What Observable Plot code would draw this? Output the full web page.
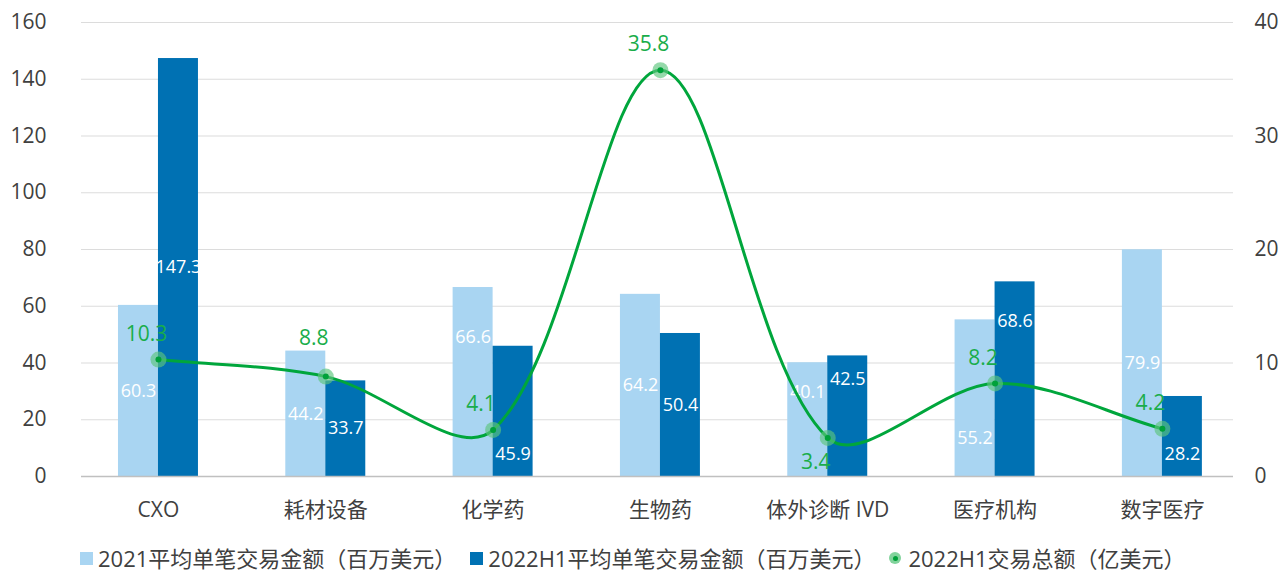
<!DOCTYPE html>
<html>
<head>
<meta charset="utf-8">
<script src="https://cdn.jsdelivr.net/npm/d3@7"></script>
<script src="https://cdn.jsdelivr.net/npm/@observablehq/plot@0.6"></script>
<style>
  html, body { margin: 0; padding: 0; background: #fff; }
  body { width: 1286px; height: 572px; overflow: hidden; font-family: "Open Sans", "Noto Sans CJK SC", sans-serif; }
  #legend { display: flex; align-items: center; height: 28px; line-height: 28px; padding-top: 14px; padding-left: 80px; font-size: 22px; color: #404040; white-space: nowrap; }
  .item { display: flex; align-items: center; margin-right: 14px; }
  .sq { width: 13px; height: 13px; margin-right: 5px; }
  .circ { width: 12px; height: 12px; border-radius: 50%; background: #82d39c; margin-right: 7px; display: flex; align-items: center; justify-content: center; }
  .circ span { width: 5px; height: 5px; border-radius: 50%; background: #00a13a; display: block; }
</style>
</head>
<body>
<div id="chart"></div>
<div id="legend"></div>
<script>
const categories = ["CXO", "耗材设备", "化学药", "生物药", "体外诊断 IVD", "医疗机构", "数字医疗"];
const avg2021 = [60.3, 44.2, 66.6, 64.2, 40.1, 55.2, 79.9];
const avg2022H1 = [147.3, 33.7, 45.9, 50.4, 42.5, 68.6, 28.2];
const total2022H1 = [10.3, 8.8, 4.1, 35.8, 3.4, 8.2, 4.2];
const leftTicks = [0, 20, 40, 60, 80, 100, 120, 140, 160];
const rightTicks = [0, 10, 20, 30, 40];
const seriesNames = ["2021平均单笔交易金额（百万美元）", "2022H1平均单笔交易金额（百万美元）", "2022H1交易总额（亿美元）"];

const lightBlue = "#a9d5f2";
const darkBlue = "#0071b3";
const green = "#00a63c";
const greenText = "#19ad4a";
const ratio = 160 / 40;
const barW = 0.239;

// Spreadsheet-style smoothed line: cubic Bezier segments whose tangents
// are scaled by the relative chord lengths of neighbouring segments.
function smoothCurve(context) {
  let pts = [];
  return {
    areaStart() {}, areaEnd() {},
    lineStart() { pts = []; },
    point(x, y) { pts.push([+x, +y]); },
    lineEnd() {
      const n = pts.length;
      if (!n) return;
      context.moveTo(pts[0][0], pts[0][1]);
      const dist = (a, b) => Math.hypot(b[0] - a[0], b[1] - a[1]);
      for (let i = 0; i < n - 1; i++) {
        const p0 = pts[Math.max(0, i - 1)], p1 = pts[i], p2 = pts[i + 1], p3 = pts[Math.min(n - 1, i + 2)];
        const d01 = dist(p0, p1), d12 = dist(p1, p2), d23 = dist(p2, p3);
        const f1 = d01 + d12 > 0 ? d12 / (d01 + d12) / 3 : 0;
        const f2 = d12 + d23 > 0 ? d12 / (d12 + d23) / 3 : 0;
        const c1 = [p1[0] + (p2[0] - p0[0]) * f1, p1[1] + (p2[1] - p0[1]) * f1];
        const c2 = [p2[0] - (p3[0] - p1[0]) * f2, p2[1] - (p3[1] - p1[1]) * f2];
        context.bezierCurveTo(c1[0], c1[1], c2[0], c2[1], p2[0], p2[1]);
      }
    }
  };
}

// Put a bar's value label at its middle, unless that collides with an
// obstacle band [lo, hi] (line point / its label); then use the larger free gap.
function placeLabel(v, lo, hi) {
  const mid = v / 2, half = 2.5;
  if (mid + half < lo || mid - half > hi) return mid;
  const gapLow = Math.max(0, lo), gapHigh = Math.max(0, v - hi);
  const c = gapHigh > gapLow ? (hi + v) / 2 : lo / 2;
  return Math.max(c, 8);
}

const rows = categories.map((c, i) => {
  const a = avg2021[i], b = avg2022H1[i], t = total2022H1[i];
  const p = t * ratio;
  const next = i + 1 < total2022H1.length ? total2022H1[i + 1] * ratio : p;
  const isBelow = c === "体外诊断 IVD";
  let gl = isBelow ? p - 8.5 : p + 9;
  if (!isBelow && Math.abs(gl - a) < 4) gl = a + 4.5;
  const ay = placeLabel(a, Math.min(p, gl) - 6, Math.max(p, gl) + 6);
  // the line leaves the point towards the next one, across the right-hand bar
  const by = placeLabel(b, p - 8 - 0.25 * Math.max(0, p - next), p + 8 + 0.25 * Math.max(0, next - p));
  return { i, c, a, b, t, p, gl, ay, by };
});

const chart = Plot.plot({
  width: 1286,
  height: 530,
  marginLeft: 81,
  marginRight: 53,
  marginTop: 22,
  marginBottom: 54,
  style: { fontFamily: '"Open Sans", "Noto Sans CJK SC", sans-serif', fontSize: "21px", color: "#404040", background: "#fff" },
  x: { type: "linear", domain: [-0.46, 6.425] },
  y: { domain: [0, 160] },
  marks: [
    Plot.ruleY(leftTicks.slice(1), { stroke: "#dcdcdc", strokeWidth: 1.2 }),
    Plot.rectY(rows, { x1: d => d.i - barW, x2: d => d.i, y1: 0, y2: "a", fill: lightBlue }),
    Plot.rectY(rows, { x1: d => d.i, x2: d => d.i + barW, y1: 0, y2: "b", fill: darkBlue }),
    Plot.ruleY([0], { stroke: "#c0c0c0", strokeWidth: 1.5 }),
    Plot.text(rows, { x: d => d.i - barW / 2, y: "ay", text: d => d.a.toFixed(1), fill: "#fff", fontSize: 18 }),
    Plot.text(rows, { x: d => d.i + barW / 2, y: "by", text: d => d.b.toFixed(1), fill: "#fff", fontSize: 18 }),
    Plot.line(rows, { x: "i", y: "p", curve: smoothCurve, stroke: green, strokeWidth: 3 }),
    Plot.dot(rows, { x: "i", y: "p", r: 8, fill: "#5cc57d", fillOpacity: 0.65, stroke: "none" }),
    Plot.dot(rows, { x: "i", y: "p", r: 3, fill: "#00a13a", stroke: "none" }),
    Plot.text(rows, { x: "i", y: "gl", text: d => d.t.toFixed(1), fill: greenText, fontSize: 21, dx: -12 }),
    Plot.axisY(leftTicks, { anchor: "left", tickSize: 0, tickPadding: 35, label: null, fill: "#404040" }),
    Plot.axisY(rightTicks.map(v => v * ratio), { anchor: "right", tickSize: 0, tickPadding: 21, tickFormat: v => v / ratio, label: null, fill: "#404040" }),
    Plot.axisX(d3.range(categories.length), { anchor: "bottom", tickSize: 0, tickPadding: 26, tickFormat: i => categories[i], label: null, fill: "#404040" })
  ]
});
document.getElementById("chart").appendChild(chart);

const legend = document.getElementById("legend");
const colors = [lightBlue, darkBlue];
seriesNames.forEach((name, k) => {
  const item = document.createElement("div");
  item.className = "item";
  if (k < 2) {
    const sq = document.createElement("div");
    sq.className = "sq";
    sq.style.background = colors[k];
    item.appendChild(sq);
  } else {
    const c = document.createElement("div");
    c.className = "circ";
    c.appendChild(document.createElement("span"));
    item.appendChild(c);
  }
  const t = document.createElement("span");
  t.textContent = name;
  item.appendChild(t);
  legend.appendChild(item);
});
</script>
</body>
</html>
